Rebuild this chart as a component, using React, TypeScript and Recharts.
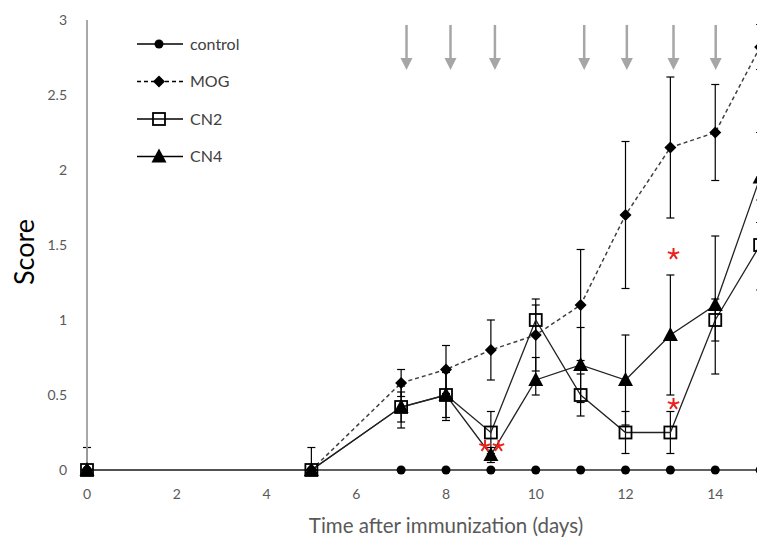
import { ComposedChart, Line, Scatter, XAxis, YAxis, ErrorBar, Label } from "recharts";

const days = [0, 5, 7, 8, 9, 10, 11, 12, 13, 14, 15];

const control = [0, 0, 0, 0, 0, 0, 0, 0, 0, 0, 0];
const controlErrLow = [0, 0, 0, 0, 0, 0, 0, 0, 0, 0, 0];
const controlErrHigh = [0.15, 0, 0, 0, 0, 0, 0, 0, 0, 0, 0];

const mog = [0, 0, 0.58, 0.67, 0.8, 0.9, 1.1, 1.7, 2.15, 2.25, 2.82];
const mogErrLow = [0, 0, 0.09, 0.16, 0.2, 0.24, 0.37, 0.49, 0.47, 0.32, 0.15];
const mogErrHigh = [0, 0.15, 0.09, 0.16, 0.2, 0.24, 0.37, 0.49, 0.47, 0.32, 0.15];

const cn2 = [0, 0, 0.42, 0.5, 0.25, 1.0, 0.5, 0.25, 0.25, 1.0, 1.5];
const cn2ErrLow = [0, 0, 0.1, 0.15, 0.14, 0.1, 0.14, 0.14, 0.14, 0.14, 0.3];
const cn2ErrHigh = [0, 0, 0.1, 0.15, 0.14, 0.1, 0.14, 0.14, 0.14, 0.14, 0.3];

const cn4 = [0, 0, 0.42, 0.5, 0.1, 0.6, 0.7, 0.6, 0.9, 1.1, 1.95];
const cn4ErrLow = [0, 0, 0.14, 0.17, 0.05, 0.1, 0.25, 0.3, 0.4, 0.46, 0.3];
const cn4ErrHigh = [0, 0, 0.14, 0.17, 0.05, 0.15, 0.25, 0.3, 0.4, 0.46, 0.3];

// treatment arrows along the top
const arrowDays = [7.12, 8.1, 9.09, 11.08, 12.03, 13.07, 14.01];
const arrowScore = 2.967;

// significance marks
const starDays = [8.87, 9.17, 13.07, 13.07];
const starScores = [0.16, 0.16, 1.44, 0.44];

const xTicks = [0, 2, 4, 6, 8, 10, 12, 14];
const yTicks = [0, 0.5, 1, 1.5, 2, 2.5, 3];

const legendNames = ["control", "MOG", "CN2", "CN4"];

const build = (ys: number[], lo: number[], hi: number[]) =>
  days.map((d, i) => ({ x: d, y: ys[i], err: [lo[i], hi[i]] }));

const controlData = build(control, controlErrLow, controlErrHigh);
const mogData = build(mog, mogErrLow, mogErrHigh);
const cn2Data = build(cn2, cn2ErrLow, cn2ErrHigh);
const cn4Data = build(cn4, cn4ErrLow, cn4ErrHigh);
const arrowData = arrowDays.map((d) => ({ x: d, y: arrowScore }));
const starData = starDays.map((d, i) => ({ x: d, y: starScores[i] }));

const FONT = "Lato, 'Open Sans', sans-serif";

const Marker = ({ kind, cx, cy }: { kind: string; cx: number; cy: number }) => {
  if (cx == null || cy == null) return null;
  if (kind === "control") return <circle cx={cx} cy={cy} r={4.5} fill="#000" />;
  if (kind === "MOG")
    return <path d={`M${cx},${cy - 6}L${cx + 6},${cy}L${cx},${cy + 6}L${cx - 6},${cy}Z`} fill="#000" />;
  if (kind === "CN2")
    return <rect x={cx - 6} y={cy - 6} width={12} height={12} fill="none" stroke="#000" strokeWidth={1.8} />;
  return <path d={`M${cx},${cy - 8}L${cx + 7.5},${cy + 6}L${cx - 7.5},${cy + 6}Z`} fill="#000" />;
};

const dotFor = (kind: string) => (p: any) => <Marker key={`${kind}-${p.index}`} kind={kind} cx={p.cx} cy={p.cy} />;

const Arrow = (p: any) => {
  const { cx, cy } = p;
  return (
    <g>
      <line x1={cx} y1={cy} x2={cx} y2={cy + 36} stroke="#a6a6a6" strokeWidth={2.5} />
      <path d={`M${cx - 6},${cy + 33}L${cx + 6},${cy + 33}L${cx},${cy + 45}Z`} fill="#a6a6a6" />
    </g>
  );
};

const Star = (p: any) => {
  const { cx, cy } = p;
  const r = 6;
  const spokes = [0, 72, 144, 216, 288].map((a) => {
    const rad = ((a - 90) * Math.PI) / 180;
    return `M${cx},${cy}L${cx + r * Math.cos(rad)},${cy + r * Math.sin(rad)}`;
  });
  return <path d={spokes.join("")} stroke="#e8231d" strokeWidth={2} fill="none" />;
};

const Overlay = () => (
  <svg width={300} height={538} style={{ position: "absolute", left: 0, top: 0 }}>
    <text
      x={23}
      y={252}
      transform="rotate(-90 23 252)"
      textAnchor="middle"
      dominantBaseline="central"
      fontSize={27}
      fill="#000"
      fontFamily={FONT}
    >
      Score
    </text>
    {legendNames.map((name, i) => {
      const y = 44 + i * 37.5;
      return (
        <g key={name}>
          <line
            x1={137}
            x2={183}
            y1={y}
            y2={y}
            stroke="#000"
            strokeWidth={1.5}
            strokeDasharray={name === "MOG" ? "4 3" : undefined}
          />
          <Marker kind={name} cx={159} cy={y} />
          <text x={190} y={y + 5.5} fontSize={16} fill="#404040" fontFamily={FONT}>
            {name}
          </text>
        </g>
      );
    })}
  </svg>
);

export default function App() {
  return (
    <div
      style={{
        position: "fixed",
        left: 0,
        top: 0,
        width: 757,
        height: 538,
        overflow: "hidden",
        background: "#fff",
      }}
    >
      <ComposedChart width={805} height={538} margin={{ top: 20, right: 0, bottom: 0, left: 0 }}>
        <XAxis
          type="number"
          dataKey="x"
          domain={[0, 16]}
          ticks={xTicks}
          tickLine={false}
          tickSize={0}
          tickMargin={19}
          height={68}
          axisLine={{ stroke: "#808080" }}
          tick={{ fill: "#595959", fontSize: 14, fontFamily: FONT }}
        >
          <Label
            value="Time after immunization (days)"
            position="insideBottom"
            offset={5}
            style={{ fill: "#595959", fontSize: 20.5, fontFamily: FONT }}
          />
        </XAxis>
        <YAxis
          type="number"
          domain={[0, 3]}
          ticks={yTicks}
          width={87}
          tickLine={false}
          tickSize={0}
          tickMargin={20}
          axisLine={{ stroke: "#a0a0a0", strokeWidth: 1.8 }}
          tick={{ fill: "#595959", fontSize: 14, fontFamily: FONT }}
        />

        <Line
          data={controlData}
          dataKey="y"
          stroke="#000"
          strokeWidth={1.5}
          dot={dotFor("control")}
          isAnimationActive={false}
        >
          <ErrorBar dataKey="err" width={4} stroke="#000" strokeWidth={1.2} direction="y" />
        </Line>
        <Line
          data={mogData}
          dataKey="y"
          stroke="#404040"
          strokeWidth={1.5}
          strokeDasharray="4 3"
          dot={dotFor("MOG")}
          isAnimationActive={false}
        >
          <ErrorBar dataKey="err" width={4} stroke="#000" strokeWidth={1.2} direction="y" />
        </Line>
        <Line
          data={cn2Data}
          dataKey="y"
          stroke="#222"
          strokeWidth={1.3}
          dot={dotFor("CN2")}
          isAnimationActive={false}
        >
          <ErrorBar dataKey="err" width={4} stroke="#000" strokeWidth={1.2} direction="y" />
        </Line>
        <Line
          data={cn4Data}
          dataKey="y"
          stroke="#222"
          strokeWidth={1.3}
          dot={dotFor("CN4")}
          isAnimationActive={false}
        >
          <ErrorBar dataKey="err" width={4} stroke="#000" strokeWidth={1.2} direction="y" />
        </Line>

        <Scatter data={arrowData} dataKey="y" shape={Arrow} isAnimationActive={false} />
        <Scatter data={starData} dataKey="y" shape={Star} isAnimationActive={false} />
      </ComposedChart>
      <Overlay />
    </div>
  );
}
